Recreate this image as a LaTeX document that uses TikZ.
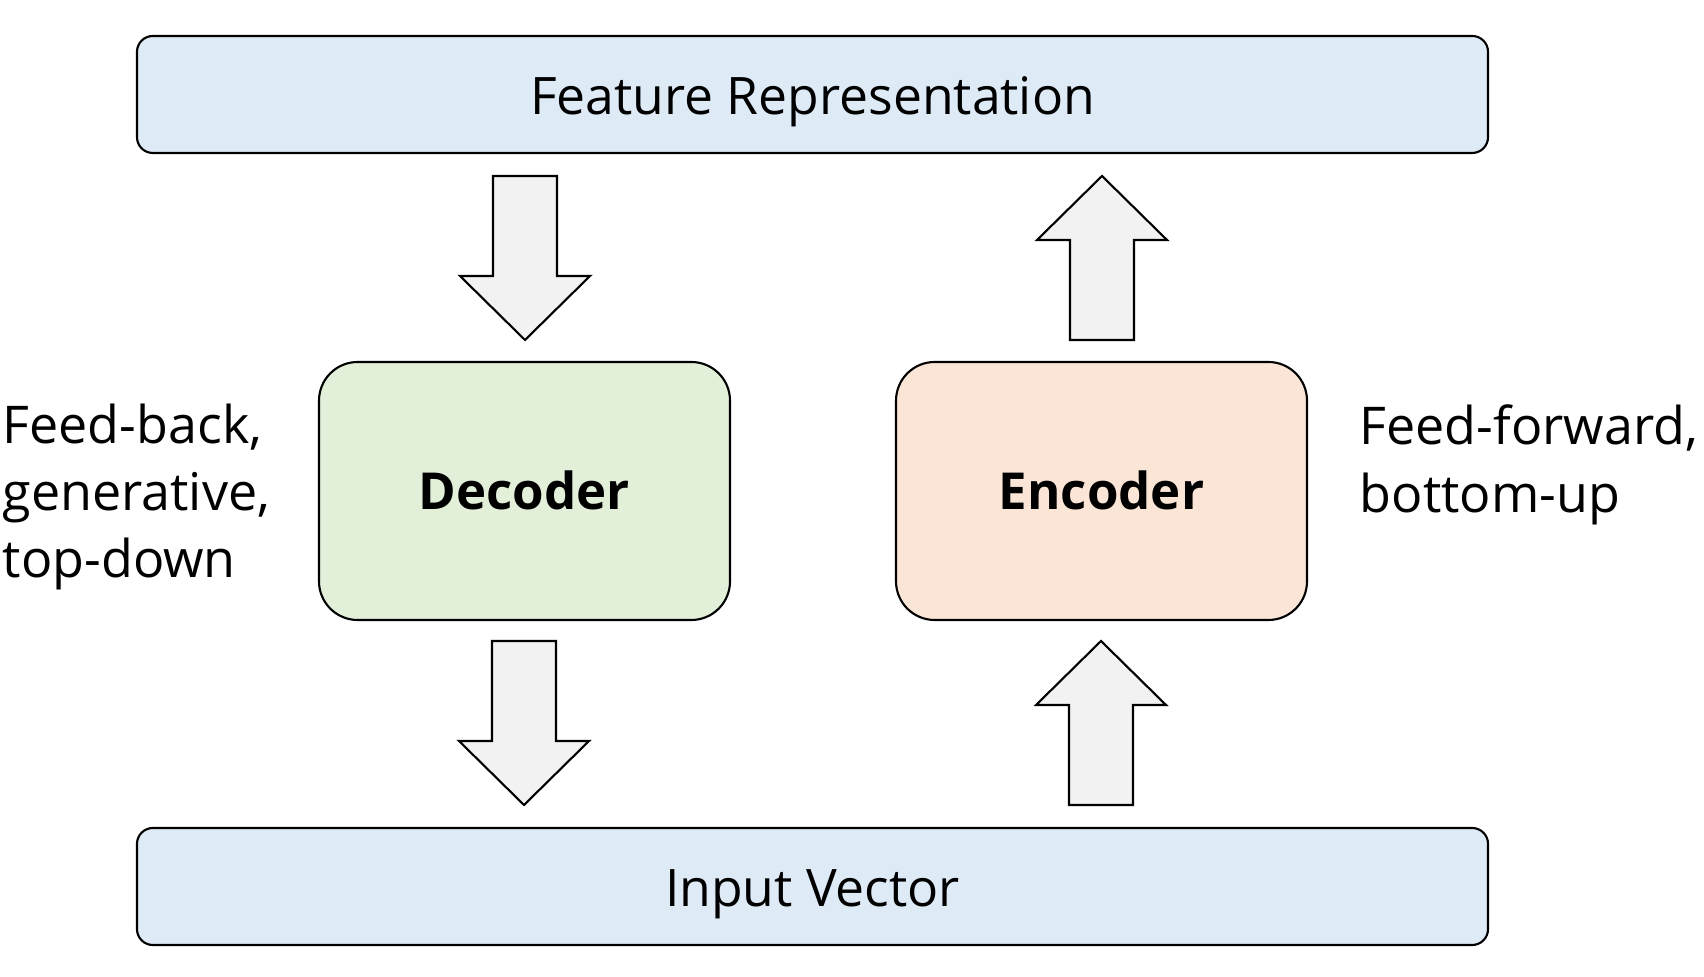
\documentclass[tikz,border=0pt]{standalone}
\usepackage{fontspec}
\setmainfont{Open Sans}
\usetikzlibrary{positioning}

\definecolor{barblue}{HTML}{DEEBF7}
\definecolor{decgreen}{HTML}{E2F0D9}
\definecolor{encpeach}{HTML}{FBE5D6}
\definecolor{arrowgray}{HTML}{F2F2F2}

\tikzset{
  barbox/.style={draw, line width=0.6pt, fill=barblue, rounded corners=4.5pt,
    minimum width=13.51cm, minimum height=1.17cm, inner sep=0pt,
    font=\fontsize{14.7}{18.5}\selectfont, text height=11.6pt, text depth=0pt},
  codebox/.style={draw, line width=0.6pt, rounded corners=11pt,
    minimum width=4.11cm, minimum height=2.58cm, inner sep=0pt,
    font=\fontsize{14.5}{18.5}\selectfont\bfseries, text height=10.6pt, text depth=0pt},
  sidetext/.style={align=left, inner sep=0pt, font=\fontsize{14.8}{19.2}\selectfont},
  pics/blockarrow/.style={code={
    \draw[line width=0.6pt, fill=arrowgray, line join=miter]
      (-0.32,0.82) -- (0.32,0.82) -- (0.32,-0.18) -- (0.65,-0.18)
      -- (0,-0.82) -- (-0.65,-0.18) -- (-0.32,-0.18) -- cycle;
  }}
}

\begin{document}
\begin{tikzpicture}[every node/.style={font=\fontsize{14.5}{18.5}\selectfont}]
    \useasboundingbox (0,0) rectangle (17.04,9.76);
    \node[barbox] (feat) at (8.125,8.815) {Feature Representation};
    \node[barbox] (input) at (8.125,0.895) {Input Vector};
    \node[codebox, fill=decgreen] (dec) at (5.245,4.85) {Decoder};
    \node[codebox, fill=encpeach] (enc) at (11.015,4.85) {Encoder};
    % block arrows: down on the decoder side, up on the encoder side
    \pic at (5.25,7.18) {blockarrow};
    \pic at (5.24,2.53) {blockarrow};
    \pic[rotate=180] at (11.02,7.18) {blockarrow};
    \pic[rotate=180] at (11.01,2.53) {blockarrow};
    \node[sidetext, anchor=west] (fb) at (0.02,4.79) {Feed-back,\\generative,\\top-down};
    \node[sidetext, anchor=west] (ff) at (13.59,5.11) {Feed-forward,\\bottom-up};
\end{tikzpicture}
\end{document}
